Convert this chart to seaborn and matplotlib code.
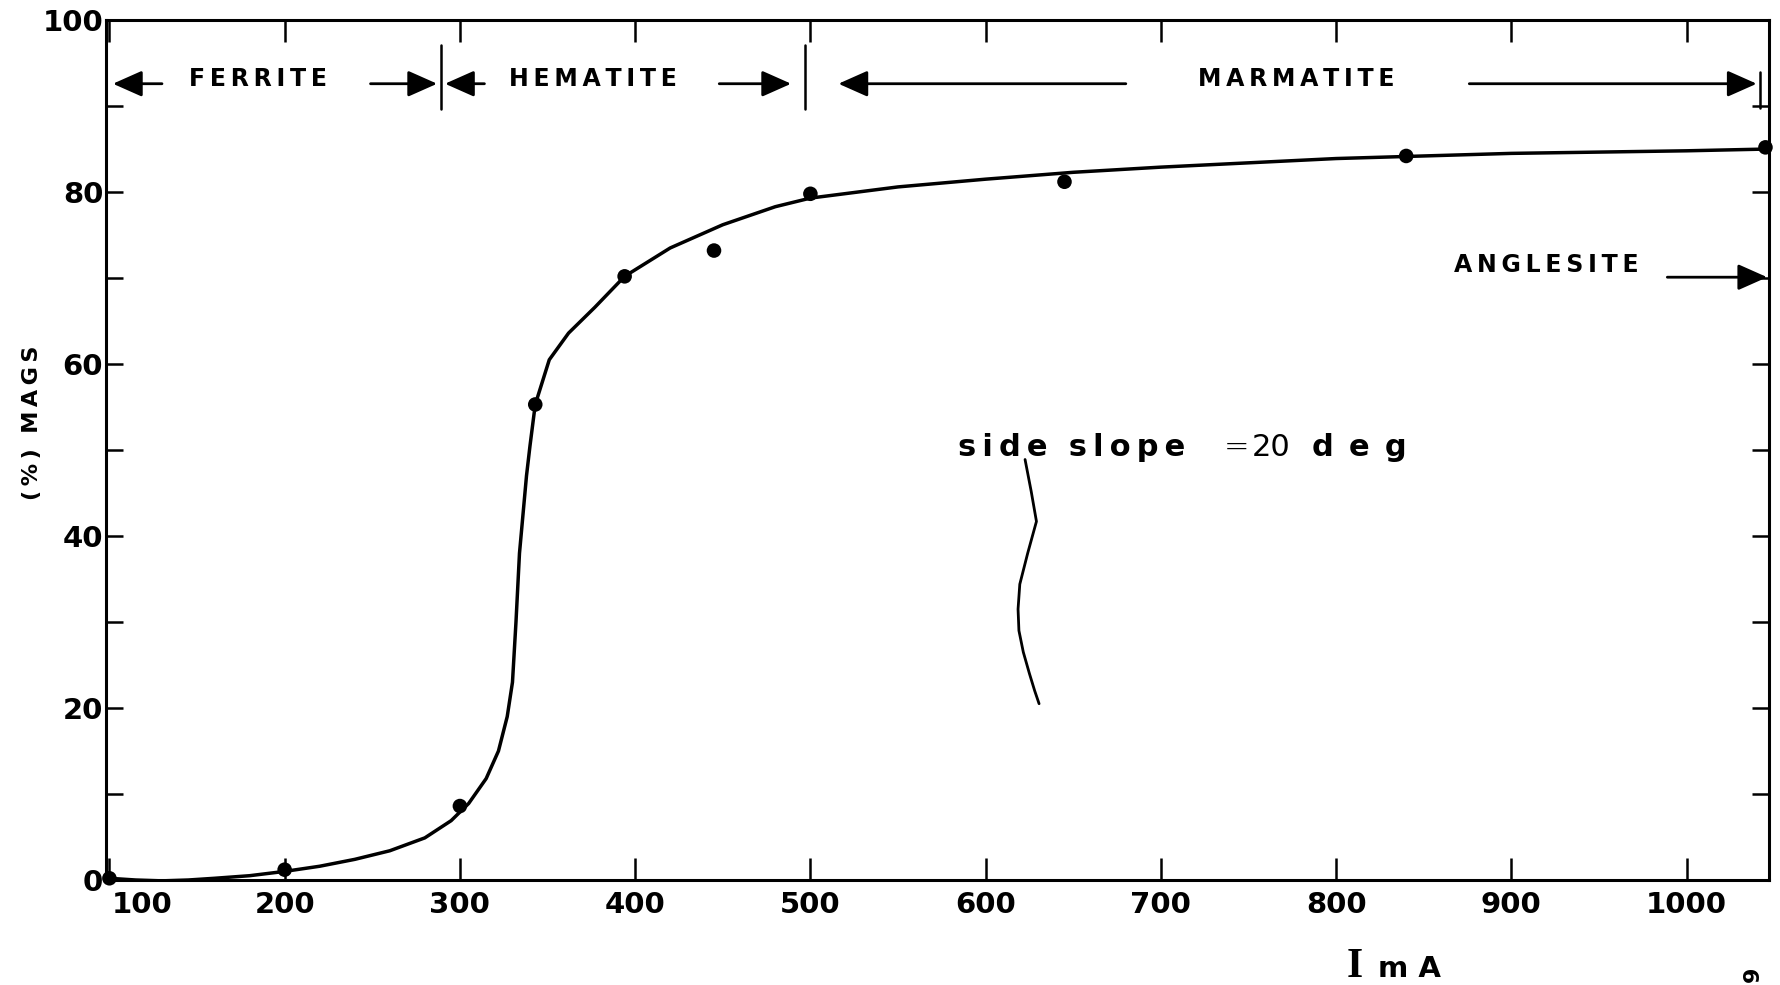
import numpy as np
import pandas as pd
import matplotlib
matplotlib.use("Agg")
import matplotlib.pyplot as plt
import matplotlib.transforms as mtransforms
import seaborn as sns

# measured points (current in mA, % mags)
POINT_MA = [100, 200, 300, 343, 394, 445, 500, 645, 840, 1045]
POINT_PCT = [0.2, 1.2, 8.6, 55.3, 70.2, 73.2, 79.8, 81.2, 84.2, 85.2]

# hand-drawn fitted curve
CURVE_MA = [100, 115, 130, 145, 160, 180, 200, 220, 240, 260, 280, 295, 305,
            315, 322, 327, 330, 332, 334, 336, 338, 340, 343, 351, 362, 377,
            394, 420, 450, 480, 500, 550, 600, 650, 700, 800, 900, 1000, 1045]
CURVE_PCT = [0.2, 0.0, -0.1, 0.0, 0.2, 0.5, 1.0, 1.6, 2.4, 3.4, 4.9, 6.9, 8.9,
             11.8, 15.0, 19.0, 23.0, 30.0, 38.0, 42.5, 47.0, 50.5, 55.3, 60.5,
             63.6, 66.6, 70.2, 73.5, 76.2, 78.3, 79.3, 80.6, 81.5, 82.3, 82.9,
             83.9, 84.5, 84.8, 85.0]

# leader squiggle under the "side slope" note
SQUIGGLE_MA = [622.5, 626, 629, 624, 619.5, 618.5, 619, 621.5, 625, 628, 630.5]
SQUIGGLE_PCT = [48.9, 45.2, 41.7, 38.0, 34.4, 31.5, 29.0, 26.5, 24.0, 22.0, 20.5]

# mineral zones: label, label centre, arrow tails / heads
ZONES = ["FERRITE", "HEMATITE", "MARMATITE"]
ZONE_CENTRES = [185, 376, 777]
ZONE_LEFT = [(130, 102), (314, 291.5), (680, 516)]
ZONE_RIGHT = [(249, 287), (448, 489), (876, 1040)]
ZONE_EDGES = [289, 497, 1042]

X_TICKS = [100, 200, 300, 400, 500, 600, 700, 800, 900, 1000]
Y_TICKS = [0, 20, 40, 60, 80, 100]

sns.set_style("ticks")
plt.rcParams["font.family"] = ["DejaVu Sans"]

INK = "black"


def spaced(s, sep="\u2009"):
    return sep.join(s)


fig = plt.figure(figsize=(17.8, 9.85), dpi=100)
ax = fig.add_axes([0.0595, 0.1066, 0.9343, 0.873])

curve = pd.DataFrame({"mA": CURVE_MA, "pct": CURVE_PCT})
pts = pd.DataFrame({"mA": POINT_MA, "pct": POINT_PCT})
sns.lineplot(data=curve, x="mA", y="pct", sort=False, color=INK,
             linewidth=2.5, ax=ax)
sns.scatterplot(data=pts, x="mA", y="pct", color=INK, s=110,
                edgecolor="none", zorder=4, clip_on=False, ax=ax)
ax.plot(SQUIGGLE_MA, SQUIGGLE_PCT, color=INK, linewidth=2.0)

ax.set_xlim(98, 1047)
ax.set_ylim(0, 100)
ax.set_xticks(X_TICKS)
ax.set_yticks(Y_TICKS)
ax.set_yticks([10, 30, 50, 70, 90], minor=True)
ax.tick_params(axis="both", which="both", direction="in", width=1.8,
               labelsize=21, colors=INK)
ax.tick_params(axis="x", which="major", length=16, top=True, pad=8)
ax.tick_params(axis="y", which="major", length=12, right=True, pad=2)
ax.tick_params(axis="y", which="minor", length=12, right=True)
for lab in ax.get_xticklabels() + ax.get_yticklabels():
    lab.set_fontweight("bold")
# first x label sits right of its tick, as in the drawing
first = ax.get_xticklabels()[0]
first.set_transform(first.get_transform()
                    + mtransforms.ScaledTranslation(0.33, 0, fig.dpi_scale_trans))
for sp in ax.spines.values():
    sp.set_linewidth(2.2)
    sp.set_color(INK)
ax.set_xlabel("")
ax.set_ylabel("")

# zone labels along the top
zone_kw = dict(fontsize=17, fontweight="heavy", family=["DejaVu Sans"],
               ha="center", va="center", color=INK)
arrow_kw = dict(arrowstyle="-|>,head_length=0.9,head_width=0.4",
                mutation_scale=20, color=INK, lw=2.0, shrinkA=0, shrinkB=0)
y_zone = 92.6
for name, cx, (lt, lh), (rt, rh) in zip(ZONES, ZONE_CENTRES, ZONE_LEFT, ZONE_RIGHT):
    ax.text(cx, y_zone + 0.6, spaced(name), **zone_kw)
    ax.annotate("", xy=(lh, y_zone), xytext=(lt, y_zone), arrowprops=arrow_kw)
    ax.annotate("", xy=(rh, y_zone), xytext=(rt, y_zone), arrowprops=arrow_kw)
for xe in ZONE_EDGES[:2]:
    ax.plot([xe, xe], [89.7, 97.1], color=INK, lw=1.8)
ax.plot([ZONE_EDGES[2], ZONE_EDGES[2]], [89.8, 94.0], color=INK, lw=1.8)

# anglesite marker
ax.text(920, 71.5, spaced("ANGLESITE"), **zone_kw)
ax.annotate("", xy=(1046, 70.1), xytext=(989, 70.1), arrowprops=arrow_kw)

# side slope note
note_kw = dict(fontsize=22, va="center", color=INK, family=["DejaVu Sans"])
ax.text(584, 50.3, spaced("side") + "  " + spaced("slope"),
        fontweight="bold", ha="left", **note_kw)
ax.text(743, 50.3, "=", fontweight="light", ha="center", **note_kw)
ax.text(752, 50.3, "20", fontweight="normal", ha="left", **note_kw)
ax.text(786, 50.3, spaced("deg", "\u2002"), fontweight="bold", ha="left", **note_kw)

# axis titles
fig.text(0.018, 0.571, spaced("(%)") + "  " + spaced("MAGS"), rotation=90,
         fontsize=16, fontweight="heavy", family=["DejaVu Sans"],
         ha="center", va="center", color=INK)
fig.text(0.761, 0.008, "I", fontsize=30, family=["Liberation Serif", "DejaVu Serif"],
         fontweight="bold", ha="center", va="baseline", color=INK)
fig.text(0.792, 0.008, spaced("mA", " "), fontsize=21, fontweight="bold",
         family=["DejaVu Sans"], ha="center", va="baseline", color=INK)
fig.text(0.985, 0.003, "9", fontsize=16, rotation=90, fontweight="bold",
         family=["DejaVu Sans"], ha="center", va="bottom", color=INK)

fig.savefig("out.png", dpi=100)
